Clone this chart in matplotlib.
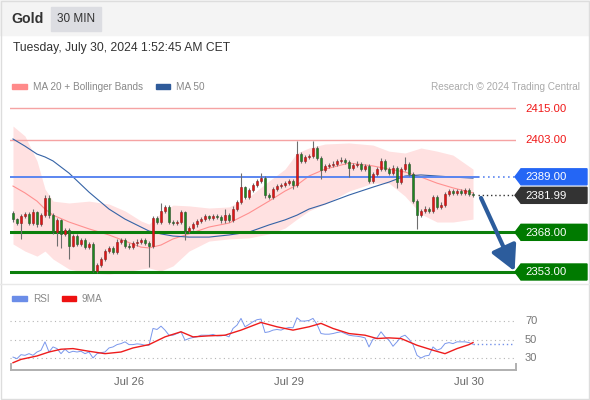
import numpy as np
import matplotlib
matplotlib.use('Agg')
import matplotlib.pyplot as plt
from matplotlib.patches import Rectangle, Polygon

plt.rcParams['font.family'] = ['Liberation Sans', 'DejaVu Sans']

# Gold 30 min candles, oldest first
opens = [2375.4, 2372.9, 2371.5, 2374.2, 2375.0, 2371.5, 2375.5, 2371.0, 2374.5, 2381.0,
         2374.5, 2368.0, 2372.5, 2367.5, 2369.0, 2363.0, 2366.5, 2363.5, 2365.0, 2362.5,
         2363.5, 2353.5, 2355.5, 2358.0, 2360.9, 2362.0, 2360.5, 2364.5, 2365.0, 2363.0,
         2362.5, 2363.8, 2364.5, 2365.0, 2364.0, 2363.0, 2373.5, 2372.0, 2376.0, 2377.5,
         2372.0, 2371.5, 2372.0, 2375.5, 2368.5, 2369.5, 2371.0, 2372.3, 2373.0, 2374.0,
         2373.5, 2374.2, 2373.8, 2372.5, 2374.5, 2372.8, 2377.0, 2379.5, 2385.0, 2381.5,
         2384.0, 2386.0, 2387.5, 2388.7, 2382.0, 2381.5, 2384.5, 2385.5, 2386.0, 2386.8,
         2387.3, 2386.0, 2397.5, 2395.0, 2396.5, 2397.0, 2400.0, 2396.0, 2391.5, 2393.0,
         2393.5, 2394.0, 2395.0, 2395.5, 2394.5, 2392.3, 2393.5, 2394.0, 2392.0, 2393.0,
         2387.5, 2390.0, 2392.0, 2395.0, 2392.0, 2390.5, 2392.5, 2387.0, 2392.0, 2394.0,
         2390.0, 2380.0, 2374.5, 2376.0, 2377.0, 2376.0, 2381.5, 2377.5, 2378.5, 2382.5,
         2383.5, 2383.0, 2383.5, 2383.0, 2384.0, 2382.5]
highs = [2376.1, 2373.6, 2374.9, 2375.8, 2375.8, 2377.0, 2376.2, 2375.2, 2382.0, 2382.0,
         2375.3, 2373.3, 2373.2, 2369.8, 2369.7, 2367.2, 2367.3, 2365.8, 2365.7, 2364.3,
         2364.2, 2356.3, 2358.8, 2361.7, 2362.8, 2362.7, 2365.3, 2365.8, 2365.7, 2363.8,
         2364.6, 2365.3, 2365.8, 2365.7, 2364.8, 2374.3, 2374.2, 2379.0, 2378.3, 2378.2,
         2372.7, 2372.8, 2376.3, 2376.2, 2370.3, 2371.8, 2373.1, 2373.8, 2374.8, 2374.7,
         2375.0, 2374.9, 2374.5, 2377.0, 2375.2, 2377.8, 2380.3, 2390.4, 2385.7, 2384.8,
         2386.8, 2388.3, 2390.5, 2389.4, 2382.7, 2385.3, 2386.3, 2386.8, 2387.6, 2388.1,
         2388.0, 2402.7, 2398.2, 2397.3, 2397.8, 2402.5, 2400.7, 2396.7, 2393.8, 2394.3,
         2394.8, 2395.8, 2396.3, 2396.2, 2395.2, 2394.3, 2394.8, 2394.7, 2393.8, 2393.7,
         2390.8, 2392.8, 2396.0, 2395.7, 2392.7, 2393.3, 2393.2, 2392.8, 2396.5, 2394.7,
         2390.7, 2380.7, 2376.8, 2377.8, 2377.7, 2382.3, 2382.2, 2379.3, 2383.3, 2384.3,
         2384.2, 2384.3, 2384.2, 2384.8, 2384.7, 2383.2]
lows = [2371.8, 2370.8, 2365.5, 2373.4, 2370.7, 2370.9, 2370.2, 2370.3, 2373.8, 2373.6,
        2367.2, 2363.0, 2362.0, 2366.7, 2358.0, 2362.3, 2362.7, 2362.8, 2361.6, 2361.8,
        2353.0, 2352.8, 2354.7, 2357.2, 2360.1, 2359.7, 2359.8, 2363.7, 2362.2, 2361.7,
        2361.8, 2363.0, 2363.7, 2363.2, 2355.0, 2362.2, 2371.2, 2371.3, 2375.2, 2371.2,
        2370.7, 2370.8, 2371.2, 2365.0, 2367.7, 2368.7, 2370.2, 2371.5, 2372.2, 2372.7,
        2372.7, 2373.0, 2371.7, 2371.7, 2372.0, 2372.0, 2376.2, 2378.7, 2380.7, 2380.7,
        2383.2, 2385.2, 2386.7, 2381.0, 2380.7, 2380.7, 2383.7, 2384.7, 2385.2, 2386.0,
        2384.5, 2385.2, 2394.2, 2394.2, 2395.7, 2396.2, 2395.2, 2388.0, 2390.7, 2392.2,
        2392.7, 2393.2, 2394.2, 2393.7, 2389.0, 2391.5, 2392.7, 2391.2, 2391.2, 2386.7,
        2386.7, 2389.2, 2391.2, 2391.2, 2389.7, 2389.7, 2384.6, 2386.2, 2391.2, 2389.2,
        2379.2, 2369.3, 2373.7, 2375.2, 2375.2, 2375.2, 2376.7, 2376.7, 2377.7, 2381.7,
        2382.2, 2382.2, 2382.2, 2382.2, 2381.7, 2381.2]
closes = [2372.9, 2371.5, 2374.2, 2375.0, 2371.5, 2375.5, 2371.0, 2374.5, 2381.0, 2374.5,
          2368.0, 2372.5, 2367.5, 2369.0, 2363.0, 2366.5, 2363.5, 2365.0, 2362.5, 2363.5,
          2353.5, 2355.5, 2358.0, 2360.9, 2362.0, 2360.5, 2364.5, 2365.0, 2363.0, 2362.5,
          2363.8, 2364.5, 2365.0, 2364.0, 2363.0, 2373.5, 2372.0, 2376.0, 2377.5, 2372.0,
          2371.5, 2372.0, 2375.5, 2368.5, 2369.5, 2371.0, 2372.3, 2373.0, 2374.0, 2373.5,
          2374.2, 2373.8, 2372.5, 2374.5, 2372.8, 2377.0, 2379.5, 2385.0, 2381.5, 2384.0,
          2386.0, 2387.5, 2388.7, 2382.0, 2381.5, 2384.5, 2385.5, 2386.0, 2386.8, 2387.3,
          2386.0, 2397.5, 2395.0, 2396.5, 2397.0, 2400.0, 2396.0, 2391.5, 2393.0, 2393.5,
          2394.0, 2395.0, 2395.5, 2394.5, 2392.3, 2393.5, 2394.0, 2392.0, 2393.0, 2387.5,
          2390.0, 2392.0, 2395.0, 2392.0, 2390.5, 2392.5, 2387.0, 2392.0, 2394.0, 2390.0,
          2380.0, 2374.5, 2376.0, 2377.0, 2376.0, 2381.5, 2377.5, 2378.5, 2382.5, 2383.5,
          2383.0, 2383.5, 2383.0, 2384.0, 2382.5, 2381.99]

# MA 20 / Bollinger / MA 50, read at these candles
ov_idx = [0, 3, 6, 8, 10, 14, 19, 24, 28, 32, 34, 37, 40, 44, 49,
          54, 59, 64, 68, 71, 74, 78, 84, 90, 94, 98, 102, 106, 110, 115]
ma20 = [2385.5, 2382.9, 2379.8, 2376.8, 2374.5, 2371.9, 2369.3, 2367.0, 2364.7, 2362.4,
        2362.1, 2363.2, 2365.5, 2367.4, 2370.0, 2371.5, 2375.3, 2379.8, 2383.6, 2385.9,
        2389.3, 2391.9, 2394.2, 2393.1, 2391.9, 2390.8, 2388.9, 2386.6, 2384.8, 2382.9]
bb_upper = [2408.2, 2404.4, 2395.0, 2384.4, 2379.8, 2379.1, 2379.8, 2378.7, 2376.1, 2372.3,
            2371.1, 2375.3, 2378.3, 2378.0, 2377.2, 2377.6, 2381.4, 2387.4, 2391.9, 2398.0,
            2399.9, 2401.4, 2401.8, 2401.0, 2398.7, 2398.0, 2399.9, 2398.7, 2397.2, 2391.9]
bb_lower = [2363.6, 2360.9, 2359.0, 2360.9, 2357.9, 2354.1, 2352.6, 2352.2, 2353.0, 2354.1,
            2354.5, 2353.4, 2355.3, 2360.9, 2364.7, 2365.5, 2365.9, 2367.4, 2369.6, 2373.0,
            2376.1, 2378.7, 2383.6, 2386.6, 2386.6, 2381.7, 2374.9, 2371.9, 2371.9, 2373.0]
ma50 = [2403.3, 2400.6, 2397.6, 2396.5, 2395.0, 2390.4, 2383.2, 2376.8, 2373.0, 2370.0,
        2368.5, 2367.4, 2366.6, 2366.2, 2366.2, 2367.0, 2368.1, 2370.8, 2372.7, 2374.5,
        2376.8, 2378.7, 2382.1, 2385.1, 2387.0, 2389.3, 2389.7, 2389.3, 2388.9, 2388.5]

# RSI per candle and its 9 period average (read at some candles)
rsi = [31.0, 29.3, 33.6, 32.9, 34.7, 32.9, 36.5, 38.4, 47.5, 36.5,
       42.0, 40.2, 34.7, 39.5, 35.8, 37.3, 36.5, 37.3, 34.7, 36.5,
       30.0, 34.7, 35.8, 36.5, 40.9, 42.0, 44.5, 45.6, 47.5, 44.5,
       44.5, 45.3, 44.9, 43.8, 43.8, 62.0, 60.9, 64.5, 60.2, 54.7,
       54.7, 56.5, 58.4, 49.3, 51.1, 52.2, 52.9, 54.7, 54.7, 54.7,
       55.5, 54.0, 54.0, 54.7, 52.9, 62.0, 65.6, 72.9, 63.8, 66.4,
       69.3, 71.5, 72.2, 57.6, 58.4, 60.2, 60.9, 60.2, 62.0, 63.1,
       62.7, 73.6, 70.0, 70.0, 70.7, 72.9, 66.4, 56.5, 55.8, 55.8,
       56.5, 57.6, 58.4, 56.5, 54.7, 54.0, 53.6, 52.9, 51.8, 42.0,
       50.4, 51.8, 58.4, 52.9, 49.3, 42.7, 47.5, 52.9, 54.7, 50.4,
       44.5, 32.9, 30.0, 32.2, 32.9, 42.0, 38.4, 40.2, 45.6, 46.7,
       45.6, 47.5, 47.5, 47.5, 46.7, 44.9]
ma9_idx = [0, 2, 6, 9, 12, 15, 19, 23, 27, 30, 34, 38, 42, 45, 49, 53, 57,
           62, 66, 70, 74, 77, 80, 84, 88, 91, 94, 97, 101, 105, 108, 111, 114, 115]
ma9 = [24.9, 28.5, 32.2, 36.5, 39.5, 40.2, 37.3, 34.7, 36.5, 40.9, 44.5, 52.9, 58.4,
       52.9, 54.0, 54.7, 60.2, 68.5, 63.8, 60.2, 63.8, 67.5, 62.0, 56.5, 54.7, 51.1,
       51.8, 51.1, 43.8, 38.4, 34.7, 40.2, 44.5, 46.7]
rsi_levels = [70, 50, 30]

resistances = [2415.0, 2403.0]
pivot = 2389.0
last_price = 2381.99
supports = [2368.0, 2353.0]

day_ticks = [29, 69, 114]
day_labels = ['Jul 26', 'Jul 29', 'Jul 30']

W, H = 590, 400
fig = plt.figure(figsize=(W / 100, H / 100), dpi=100)


def box(l, t, w, h):
    return [l / W, 1 - (t + h) / H, w / W, h / H]


ax = fig.add_axes(box(10, 98, 506, 181))
ax2 = fig.add_axes(box(10, 310, 506, 60))
ov = fig.add_axes([0, 0, 1, 1], zorder=5)
ov.set_xlim(0, W)
ov.set_ylim(H, 0)
ov.axis('off')
ov.patch.set_alpha(0)

# ---- price panel
x = np.arange(len(closes))
o = np.array(opens)
c = np.array(closes)
up = c >= o
ax.set_xlim(-0.75, 125.75)
ax.set_ylim(2350.35, 2418.8)
ax.axis('off')

ax.fill_between(ov_idx, bb_lower, bb_upper, color='#ffe1e1', lw=0, zorder=1)
ax.plot(ov_idx, ma20, color='#ff9090', lw=0.8, zorder=2)
ax.plot(ov_idx, ma50, color='#3563a6', lw=0.8, zorder=2)

for r in resistances:
    ax.axhline(r, color='#f5a3a3', lw=1, zorder=1.5)
ax.plot([-0.75, len(closes) + 0.3], [pivot, pivot], color='#5b86f0', lw=1.4, zorder=2.5)
for s in supports:
    ax.axhline(s, color='#0b7f0b', lw=2.2, zorder=2.5)

ax.vlines(x, lows, highs, color='#6e6e6e', lw=0.8, zorder=3)
ax.bar(x[up], (c - o)[up], bottom=o[up], width=0.7, color='#e31414',
       edgecolor='#8a2020', lw=0.4, zorder=4)
ax.bar(x[~up], (c - o)[~up], bottom=o[~up], width=0.7, color='#1d8a1d',
       edgecolor='#2e4e2e', lw=0.4, zorder=4)

ax.annotate('', xy=(125.4, 2353.3), xytext=(len(closes) + 1.0, 2381.0),
            arrowprops=dict(arrowstyle='-|>,head_width=0.5,head_length=0.95',
                            color='#2c5c9c', lw=3, mutation_scale=16,
                            shrinkA=0, shrinkB=0),
            annotation_clip=False, zorder=6)


def py(axes, v):
    return H - axes.transData.transform((0, v))[1]


def tag(level, color):
    y = py(ax, level)
    ov.add_patch(Polygon([(515, y), (521, y - 8), (587, y - 8), (587, y + 8), (521, y + 8)],
                         closed=True, color=color, zorder=3))
    ov.text(525, y + 0.5, f'{level:.2f}', color='white', ha='left', va='center',
            fontsize=8.2, zorder=4)


for r in resistances:
    ov.text(525, py(ax, r) + 0.5, f'{r:.2f}', color='#f01818', ha='left', va='center',
            fontsize=8.2)
x_end = 478
ov.plot([x_end, 515], [py(ax, pivot)] * 2, ls=(0, (1, 2)), color='#5b86f0', lw=1.2)
ov.plot([x_end, 515], [py(ax, last_price)] * 2, ls=(0, (1, 2)), color='#333333', lw=1)
tag(pivot, '#2466f5')
tag(last_price, '#333333')
for s in supports:
    tag(s, '#007a00')

# ---- RSI panel
ax2.set_xlim(-0.75, 125.75)
ax2.set_ylim(17, 82)
ax2.axis('off')
for v in rsi_levels:
    ax2.axhline(v, color='#b5b5b5', lw=0.8, ls=(0, (1, 3)), zorder=1)
    ov.text(525, py(ax2, v), str(v), color='#777777', fontsize=8, ha='left', va='center')
ax2.plot(x, rsi, color='#7a97ec', lw=0.7, zorder=2)
ax2.plot([x[-1], 125.25], [rsi[-1], rsi[-1]], color='#7391ea', lw=1, ls=(0, (1, 2)), zorder=2)
ax2.plot(ma9_idx, ma9, color='#ee1c1c', lw=1.0, zorder=3)
for t, lab in zip(day_ticks, day_labels):
    ax2.text(t, -0.2, lab, transform=ax2.get_xaxis_transform(), ha='center', va='center',
             fontsize=8, color='#666666')

ov.plot([11, 516], [370, 370], color='#b0b0b0', lw=1.4)
ov.plot([11, 11], [364, 370], color='#b0b0b0', lw=1.4)
ov.plot([516, 516], [364, 370], color='#b0b0b0', lw=1.4)

# ---- header, legends, frame
ov.add_patch(Rectangle((0, 0), W, 35, color='#f4f4f4', zorder=0))
ov.text(11, 19, 'Gold', fontsize=10.2, fontweight='bold', color='#333333', va='center')
ov.add_patch(Rectangle((51, 7), 50, 24, color='#dcdde2', zorder=1))
ov.text(76, 19, '30 MIN', fontsize=8.5, color='#333333', ha='center', va='center')
ov.text(13, 48, 'Tuesday, July 30, 2024 1:52:45 AM CET', fontsize=8.7, color='#333333',
        va='center')

ov.add_patch(Rectangle((12, 83.5), 15, 5, color='#ff8a8a'))
ov.text(33, 86.5, 'MA 20 + Bollinger Bands', fontsize=7.2, color='#888888', va='center')
ov.add_patch(Rectangle((156, 83.5), 14, 5, color='#2f5b9a'))
ov.text(176, 86.5, 'MA 50', fontsize=7.2, color='#888888', va='center')
ov.text(580, 86.5, 'Research \u00a9 2024 Trading Central', fontsize=7.2, color='#aaaaaa',
        ha='right', va='center')

ov.add_patch(Rectangle((12, 295.5), 15, 5, color='#6b8de8'))
ov.text(33, 298.5, 'RSI', fontsize=7.2, color='#888888', va='center')
ov.add_patch(Rectangle((62, 295.5), 14, 5, color='#ee1111'))
ov.text(82, 298.5, '9MA', fontsize=7.2, color='#888888', va='center')

ov.plot([0, W], [284, 284], color='#e8e8e8', lw=1)
ov.add_patch(Rectangle((0.5, 0.5), W - 1.5, H - 1.5, fill=False, ec='#dddddd', lw=1))

fig.savefig('out.png', dpi=100)
